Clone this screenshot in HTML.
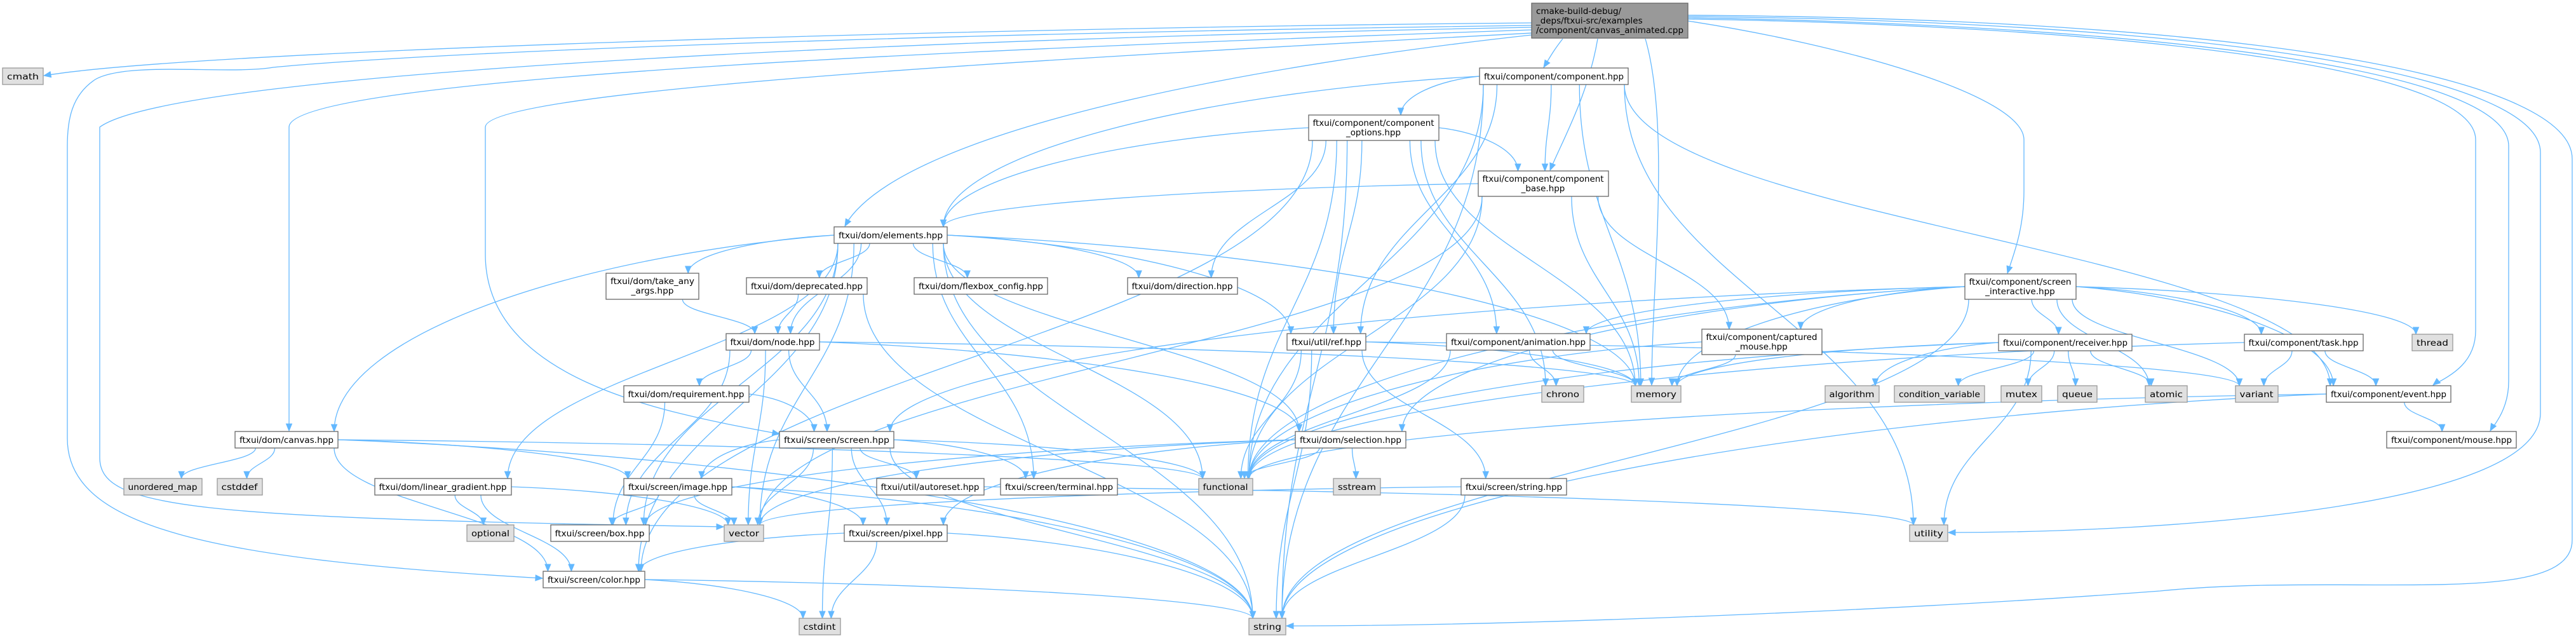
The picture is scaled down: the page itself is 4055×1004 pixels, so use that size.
<!DOCTYPE html>
<html><head><meta charset="utf-8">
<style>
html,body{margin:0;padding:0;background:#fff;}
svg{display:block;}
text{font-family:"DejaVu Sans","Liberation Sans",sans-serif;font-size:13px;fill:#000;}
.n rect{fill:#fff;stroke:#666;stroke-width:1.3;}
.s rect{fill:#e0e0e0;stroke:#999;stroke-width:1.3;}
.r rect{fill:#999;stroke:#666;stroke-width:1.3;}
path.e{fill:none;stroke:#63b8ff;stroke-width:1.3;}
path.a{fill:#63b8ff;stroke:#63b8ff;stroke-width:1;}
</style></head>
<body>
<svg id="g" width="4055" height="1004" viewBox="0 0 4055 1004" xmlns="http://www.w3.org/2000/svg">
<g id="edges"></g>
<g id="nodes">
<g class="r" id="root"><rect x="2411" y="5" width="246" height="55"/><text x="2418" y="22">cmake-build-debug/</text><text x="2418" y="37">_deps/ftxui-src/examples</text><text x="2418" y="52">/component/canvas_animated.cpp</text></g>
<g class="s" id="cmath"><rect x="4" y="107" width="64" height="26"/><text x="36" y="125" text-anchor="middle">cmath</text></g>
<g class="n" id="comp"><rect x="2329" y="107" width="234" height="26"/><text x="2446" y="125" text-anchor="middle">ftxui/component/component.hpp</text></g>
<g class="n" id="opts"><rect x="2060" y="181" width="205" height="40"/><text x="2162" y="198" text-anchor="middle">ftxui/component/component</text><text x="2162" y="213" text-anchor="middle">_options.hpp</text></g>
<g class="n" id="base"><rect x="2327" y="269" width="205" height="40"/><text x="2429" y="286" text-anchor="middle">ftxui/component/component</text><text x="2429" y="301" text-anchor="middle">_base.hpp</text></g>
<g class="n" id="elem"><rect x="1313" y="357" width="178" height="26"/><text x="1402" y="375" text-anchor="middle">ftxui/dom/elements.hpp</text></g>
<g class="n" id="take"><rect x="954" y="430" width="146" height="41"/><text x="1027" y="447" text-anchor="middle">ftxui/dom/take_any</text><text x="1027" y="462" text-anchor="middle">_args.hpp</text></g>
<g class="n" id="depr"><rect x="1175" y="437" width="190" height="26"/><text x="1270" y="455" text-anchor="middle">ftxui/dom/deprecated.hpp</text></g>
<g class="n" id="flex"><rect x="1439" y="437" width="210" height="26"/><text x="1544" y="455" text-anchor="middle">ftxui/dom/flexbox_config.hpp</text></g>
<g class="n" id="dir"><rect x="1775" y="437" width="173" height="26"/><text x="1861" y="455" text-anchor="middle">ftxui/dom/direction.hpp</text></g>
<g class="n" id="si"><rect x="3093" y="431" width="175" height="40"/><text x="3180" y="448" text-anchor="middle">ftxui/component/screen</text><text x="3180" y="463" text-anchor="middle">_interactive.hpp</text></g>
<g class="n" id="node"><rect x="1143" y="525" width="147" height="26"/><text x="1216" y="543" text-anchor="middle">ftxui/dom/node.hpp</text></g>
<g class="n" id="ref"><rect x="2026" y="525" width="124" height="26"/><text x="2088" y="543" text-anchor="middle">ftxui/util/ref.hpp</text></g>
<g class="n" id="anim"><rect x="2277" y="525" width="226" height="26"/><text x="2390" y="543" text-anchor="middle">ftxui/component/animation.hpp</text></g>
<g class="n" id="capt"><rect x="2679" y="518" width="189" height="40"/><text x="2773" y="535" text-anchor="middle">ftxui/component/captured</text><text x="2773" y="550" text-anchor="middle">_mouse.hpp</text></g>
<g class="n" id="recv"><rect x="3146" y="526" width="210" height="26"/><text x="3251" y="544" text-anchor="middle">ftxui/component/receiver.hpp</text></g>
<g class="n" id="task"><rect x="3533" y="526" width="187" height="26"/><text x="3626" y="544" text-anchor="middle">ftxui/component/task.hpp</text></g>
<g class="s" id="thread"><rect x="3797" y="526" width="64" height="26"/><text x="3829" y="544" text-anchor="middle">thread</text></g>
<g class="n" id="req"><rect x="982" y="607" width="197" height="26"/><text x="1080" y="625" text-anchor="middle">ftxui/dom/requirement.hpp</text></g>
<g class="s" id="chrono"><rect x="2427" y="607" width="66" height="26"/><text x="2460" y="625" text-anchor="middle">chrono</text></g>
<g class="s" id="memory"><rect x="2568" y="607" width="78" height="26"/><text x="2607" y="625" text-anchor="middle">memory</text></g>
<g class="s" id="algo"><rect x="2873" y="607" width="85" height="26"/><text x="2915" y="625" text-anchor="middle">algorithm</text></g>
<g class="s" id="cv"><rect x="2982" y="607" width="142" height="26"/><text x="3053" y="625" text-anchor="middle">condition_variable</text></g>
<g class="s" id="mutex"><rect x="3150" y="607" width="64" height="26"/><text x="3182" y="625" text-anchor="middle">mutex</text></g>
<g class="s" id="queue"><rect x="3239" y="607" width="62" height="26"/><text x="3270" y="625" text-anchor="middle">queue</text></g>
<g class="s" id="atomic"><rect x="3377" y="607" width="66" height="26"/><text x="3410" y="625" text-anchor="middle">atomic</text></g>
<g class="s" id="variant"><rect x="3519" y="607" width="67" height="26"/><text x="3552" y="625" text-anchor="middle">variant</text></g>
<g class="n" id="event"><rect x="3662" y="607" width="196" height="26"/><text x="3760" y="625" text-anchor="middle">ftxui/component/event.hpp</text></g>
<g class="n" id="canvas"><rect x="370" y="679" width="162" height="26"/><text x="451" y="697" text-anchor="middle">ftxui/dom/canvas.hpp</text></g>
<g class="n" id="screen"><rect x="1227" y="679" width="180" height="26"/><text x="1317" y="697" text-anchor="middle">ftxui/screen/screen.hpp</text></g>
<g class="n" id="sel"><rect x="2039" y="679" width="174" height="26"/><text x="2126" y="697" text-anchor="middle">ftxui/dom/selection.hpp</text></g>
<g class="n" id="mouse"><rect x="3757" y="679" width="204" height="26"/><text x="3859" y="697" text-anchor="middle">ftxui/component/mouse.hpp</text></g>
<g class="s" id="umap"><rect x="195" y="753" width="123" height="26"/><text x="256" y="771" text-anchor="middle">unordered_map</text></g>
<g class="s" id="cstddef"><rect x="342" y="753" width="71" height="26"/><text x="377" y="771" text-anchor="middle">cstddef</text></g>
<g class="n" id="lg"><rect x="590" y="753" width="215" height="26"/><text x="697" y="771" text-anchor="middle">ftxui/dom/linear_gradient.hpp</text></g>
<g class="n" id="image"><rect x="982" y="753" width="170" height="26"/><text x="1067" y="771" text-anchor="middle">ftxui/screen/image.hpp</text></g>
<g class="n" id="auto"><rect x="1380" y="753" width="169" height="26"/><text x="1464" y="771" text-anchor="middle">ftxui/util/autoreset.hpp</text></g>
<g class="n" id="term"><rect x="1575" y="753" width="184" height="26"/><text x="1667" y="771" text-anchor="middle">ftxui/screen/terminal.hpp</text></g>
<g class="s" id="func"><rect x="1887" y="753" width="85" height="26"/><text x="1929" y="771" text-anchor="middle">functional</text></g>
<g class="s" id="sstream"><rect x="2099" y="753" width="74" height="26"/><text x="2136" y="771" text-anchor="middle">sstream</text></g>
<g class="n" id="strh"><rect x="2300" y="753" width="166" height="26"/><text x="2383" y="771" text-anchor="middle">ftxui/screen/string.hpp</text></g>
<g class="s" id="optional"><rect x="735" y="826" width="74" height="26"/><text x="772" y="844" text-anchor="middle">optional</text></g>
<g class="n" id="box"><rect x="867" y="826" width="155" height="26"/><text x="944" y="844" text-anchor="middle">ftxui/screen/box.hpp</text></g>
<g class="s" id="vector"><rect x="1140" y="826" width="62" height="26"/><text x="1171" y="844" text-anchor="middle">vector</text></g>
<g class="n" id="pixel"><rect x="1329" y="826" width="162" height="26"/><text x="1410" y="844" text-anchor="middle">ftxui/screen/pixel.hpp</text></g>
<g class="s" id="utility"><rect x="3006" y="826" width="60" height="26"/><text x="3036" y="844" text-anchor="middle">utility</text></g>
<g class="n" id="color"><rect x="855" y="899" width="160" height="26"/><text x="935" y="917" text-anchor="middle">ftxui/screen/color.hpp</text></g>
<g class="s" id="cstdint"><rect x="1258" y="973" width="65" height="26"/><text x="1290" y="991" text-anchor="middle">cstdint</text></g>
<g class="s" id="string"><rect x="1966" y="973" width="58" height="26"/><text x="1995" y="991" text-anchor="middle">string</text></g>
</g>
</svg>
<script>
(function(){
var NS="http://www.w3.org/2000/svg";
var E=document.getElementById("edges");
// fit text widths
document.querySelectorAll("#nodes g").forEach(function(g){
  var r=g.querySelector("rect");var w=+r.getAttribute("width");
  var ts=g.querySelectorAll("text");var mx=0,ls=[];
  ts.forEach(function(t){var l=t.getComputedTextLength();ls.push(l);if(l>mx)mx=l;});
  var f=(w-14)/mx;
  ts.forEach(function(t,i){t.setAttribute("textLength",(ls[i]*f).toFixed(1));t.setAttribute("lengthAdjust","spacingAndGlyphs");});
});
function B(id){var r=document.querySelector("#"+id+" rect");var x=+r.getAttribute("x"),y=+r.getAttribute("y"),w=+r.getAttribute("width"),h=+r.getAttribute("height");return {x1:x,y1:y,x2:x+w,y2:y+h,cx:x+w/2,cy:y+h/2};}
function arrow(px,py,ex,ey){
  var dx=ex-px,dy=ey-py,l=Math.sqrt(dx*dx+dy*dy)||1;dx/=l;dy/=l;
  var L=11,W=4.5;var bx=ex-dx*L,by=ey-dy*L;
  var p=document.createElementNS(NS,"path");
  p.setAttribute("d","M"+ex+","+ey+"L"+(bx-dy*W)+","+(by+dx*W)+"L"+(bx+dy*W)+","+(by-dx*W)+"Z");
  p.setAttribute("class","a");E.appendChild(p);
}
function path(d,px,py,ex,ey){
  var p=document.createElementNS(NS,"path");p.setAttribute("d",d);p.setAttribute("class","e");E.appendChild(p);
  arrow(px,py,ex,ey);
}
function edge(a,b){
  var s=B(a),t=B(b);
  if(t.y1>s.y2+5){
    var sx=s.cx+(t.cx-s.cx)*0.25;sx=Math.max(s.x1+6,Math.min(s.x2-6,sx));
    var tx=t.cx+(s.cx-t.cx)*0.15;tx=Math.max(t.x1+6,Math.min(t.x2-6,tx));
    var sy=s.y2,ty=t.y1,dy=ty-sy;
    var c1x=sx,c1y=sy+dy*0.45,c2x=tx,c2y=ty-dy*0.45;
    if(Math.abs(tx-sx)>dy*2.5){
      // long horizontal: leave from side
      if(tx<s.x1){sx=s.x1;sy=s.cy;}else if(tx>s.x2){sx=s.x2;sy=s.cy;}
      dy=ty-sy;c1x=sx+(tx-sx)*0.5;c1y=sy+dy*0.1;c2x=tx;c2y=ty-dy*0.5;
    }
    path("M"+sx+","+sy+"C"+c1x+","+c1y+" "+c2x+","+c2y+" "+tx+","+ty,c2x,c2y,tx,ty);
  } else {
    // same row or above: side to side
    var sx2,tx2;if(t.cx<s.cx){sx2=s.x1;tx2=t.x2;}else{sx2=s.x2;tx2=t.x1;}
    var sy2=s.cy,ty2=t.cy;var mx=(sx2+tx2)/2;
    path("M"+sx2+","+sy2+"C"+mx+","+sy2+" "+mx+","+ty2+" "+tx2+","+ty2,mx,ty2,tx2,ty2);
  }
}
// hand-routed long edges from root
path("M2411,36C1500,44 300,80 70,119",300,80,69,119);
path("M2411,40C1500,52 700,80 430,106C360,118 200,96 150,125C112,150 106,190 106,230L106,690C106,830 330,880 854,910",500,890,854,910);
path("M2411,43C1500,60 280,110 157,200L157,720C157,800 300,815 1139,829",700,826,1139,829);
path("M2411,47C1600,75 455,120 455,200L455,677",455,640,455,678);
path("M2411,52C1700,90 764,140 764,200L764,400C764,600 1050,650 1227,683",1100,660,1227,683);
path("M2411,55C2000,100 1420,200 1330,355",1350,320,1330,356);
path("M2460,61C2445,80 2440,90 2430,106",2440,90,2430,106);
path("M2515,61C2500,150 2460,220 2440,268",2455,230,2440,268);
path("M2657,33C2900,70 3186,150 3186,220L3186,300C3186,360 3170,400 3160,430",3168,405,3160,430);
path("M2590,61C2630,200 2600,450 2600,606",2600,570,2600,606);
path("M2657,30C3300,40 3897,100 3897,220L3897,520C3897,570 3860,590 3830,606",3850,590,3830,606);
path("M2657,28C3400,40 3949,110 3949,230L3949,600C3949,640 3930,665 3920,678",3930,660,3920,678);
path("M2657,26C3500,34 3999,120 3999,240L3999,650C3999,800 3400,838 3067,838",3200,838,3067,838);
path("M2657,24C3600,30 4049,130 4049,250L4049,850C4049,960 3700,900 3400,930C3000,960 2400,985 2025,985",2100,985,2025,985);
var L=[
["comp","opts"],["comp","base"],["comp","elem"],["comp","func"],["comp","memory"],["comp","ref"],["comp","utility"],["comp","string"],["comp","event"],
["opts","elem"],["opts","base"],["opts","dir"],["opts","anim"],["opts","func"],["opts","memory"],["opts","string"],["opts","ref"],["opts","color"],["opts","chrono"],
["base","elem"],["base","capt"],["base","memory"],["base","func"],["base","vector"],
["elem","take"],["elem","depr"],["elem","flex"],["elem","dir"],["elem","node"],["elem","canvas"],["elem","lg"],["elem","color"],["elem","box"],["elem","term"],["elem","ref"],["elem","func"],["elem","memory"],["elem","sel"],["elem","string"],["elem","vector"],
["take","node"],["depr","node"],["depr","string"],
["node","req"],["node","screen"],["node","box"],["node","vector"],["node","memory"],["node","sel"],
["req","screen"],["req","box"],
["canvas","umap"],["canvas","cstddef"],["canvas","image"],["canvas","color"],["canvas","func"],["canvas","string"],
["screen","image"],["screen","vector"],["screen","cstdint"],["screen","func"],["screen","string"],["screen","term"],["screen","auto"],["screen","pixel"],
["image","box"],["image","vector"],["image","pixel"],["image","string"],
["lg","optional"],["lg","vector"],["lg","color"],
["pixel","color"],["pixel","cstdint"],["pixel","string"],
["color","cstdint"],["color","string"],
["sel","func"],["sel","sstream"],["sel","box"],["sel","pixel"],["sel","vector"],
["ref","memory"],["ref","string"],["ref","strh"],["ref","variant"],["ref","func"],
["strh","string"],["strh","vector"],
["anim","chrono"],["anim","func"],["anim","memory"],
["capt","memory"],["capt","func"],
["si","atomic"],["si","capt"],["si","event"],["si","func"],["si","memory"],["si","recv"],["si","task"],["si","screen"],["si","sel"],["si","string"],["si","thread"],["si","variant"],["si","anim"],
["recv","algo"],["recv","cv"],["recv","mutex"],["recv","queue"],["recv","atomic"],["recv","func"],["recv","memory"],["recv","utility"],
["task","variant"],["task","event"],["task","func"],
["event","mouse"],["event","string"],["event","func"],
["auto","utility"]
];
L.forEach(function(e){edge(e[0],e[1]);});
})();
</script>
</body></html>
